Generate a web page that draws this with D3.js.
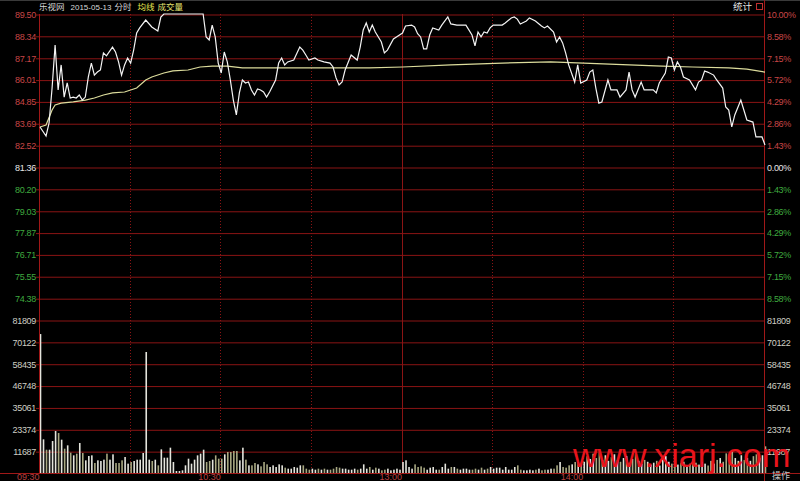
<!DOCTYPE html>
<html><head><meta charset="utf-8">
<script src="https://cdn.jsdelivr.net/npm/d3@7/dist/d3.min.js"></script>
<style>html,body{margin:0;padding:0;background:#000;overflow:hidden}svg{display:block}</style>
</head><body>
<svg id="chart" width="800" height="481"></svg>
<script>
// ---------- data ----------
const stockName = "乐视网";
const dateText = "2015-05-13";
const headerItems = ["分时", "均线", "成交量"];
const prevClose = 81.36;
const priceTicks = [89.50,88.34,87.17,86.01,84.85,83.69,82.52,81.36,80.20,79.03,77.87,76.71,75.55,74.38];
const pctTicks = ["10.00%","8.58%","7.15%","5.72%","4.29%","2.86%","1.43%","0.00%","1.43%","2.86%","4.29%","5.72%","7.15%","8.58%"];
const volTicks = [81809,70122,58435,46748,35061,23374,11687];
const timeTickMinutes = [30,60,90,120,150,180,210];
const timeLabelMinutes = [0,60,120,180];
const timeLabels = ["09:30","10:30","13:00","14:00"];

// minute offsets from the open (0 = 09:30, 120 = 11:30/13:00, 240 = 15:00)
const priceMinute = [0,2,3,4,5,6,7,8,9,10,11,12,13,14,15,16,17,18,19,20,21,22,24,25,26,27,28,29,30,31,32,33,35,37,39,40,41,54,
 55,56,57,58,59,60,61,62,63,64,65,66,67,68,69,70,71,72,73,74,75,76,78,79,80,81,82,84,86,87,88,89,91,92,94,96,97,98,99,100,
 101,103,105,106,107,108,109,110,111,113,114,115,117,118,120,121,123,124,125,126,127,128,129,130,132,133,135,136,138,141,
 143,144,145,146,147,148,149,150,153,154,156,157,158,159,161,162,164,166,167,168,170,171,172,173,174,175,177,178,179,181,
 182,183,184,185,186,188,189,191,192,194,195,196,197,199,200,203,204,205,207,208,209,210,211,212,213,215,217,218,219,220,
 221,223,224,226,227,228,229,230,232,233,234,236,237,239,240];
const priceValue = [83.49,83.01,83.70,85.56,87.85,85.46,86.79,85.08,85.83,85.03,85.08,85.03,85.19,84.92,85.08,86.15,86.89,86.25,86.41,86.52,87.43,87.27,87.74,87.48,86.95,86.25,86.79,87.16,86.89,87.58,88.49,88.76,89.18,88.81,88.60,89.34,89.50,89.50,
 88.28,88.12,88.91,88.28,86.89,86.36,87.48,86.95,85.99,84.92,84.13,85.30,85.99,85.83,85.88,85.46,85.19,85.51,85.46,85.35,85.08,85.35,85.99,86.89,87.16,86.79,86.95,87.05,87.74,87.58,87.32,87.05,87.16,87.05,86.95,86.89,86.68,86.10,85.72,85.88,
 86.52,87.32,87.05,87.74,88.65,89.02,88.54,88.91,88.54,88.01,87.43,87.58,88.17,88.28,88.49,88.86,88.91,88.81,88.45,88.28,87.64,87.64,88.38,88.76,88.65,88.91,89.34,88.97,88.91,88.91,
 88.38,87.80,88.54,88.28,88.54,88.49,88.76,88.91,88.91,89.02,89.29,89.34,89.23,88.97,89.13,89.29,89.13,88.86,88.76,88.86,88.54,88.01,88.28,87.96,87.43,86.79,85.88,86.79,85.83,85.99,
 86.41,86.52,85.56,84.76,84.82,85.99,85.46,85.46,85.08,85.46,86.41,85.46,85.08,85.88,85.46,85.46,85.30,85.83,86.36,87.21,87.16,86.52,86.95,86.68,86.15,85.99,85.46,85.88,85.99,86.47,
 86.41,86.25,85.99,85.56,84.55,84.39,83.49,84.13,84.92,84.39,83.86,83.75,82.96,82.96,82.53];

const avgMinute = [0,2,4,5,7,11,15,18,21,24,28,32,35,37,41,44,49,53,57,62,67,75,86,97,109,120,136,153,169,180,195,206,216,228,234,240];
const avgValue = [83.49,83.59,84.39,84.66,84.76,84.82,84.92,85.03,85.19,85.30,85.35,85.56,85.99,86.15,86.36,86.47,86.52,86.68,86.73,86.73,86.63,86.63,86.63,86.63,86.63,86.68,86.79,86.89,86.95,86.89,86.79,86.73,86.68,86.63,86.57,86.41];

// volume per minute, minute 0..240
const volume = [
 74300,18000,12470,12470,17100,22450,21380,17820,13000,14790,
 10870,9440,10340,16040,10690,6770,9090,9440,5350,6770,
 6420,7130,10340,7130,9980,5350,5350,6770,8550,4990,
 5880,6420,7130,7130,10690,64700,7130,6420,7130,4100,
 12650,8200,8200,13540,5880,1070,1070,1430,4100,7660,
 4990,7130,9440,10340,12470,5880,6420,7130,9440,7660,
 7660,9980,11230,11230,11760,11760,6770,13540,7130,4100,
 4100,5350,4630,3560,5880,4630,3210,4100,3210,4630,
 4100,2850,2320,2320,3210,2850,4100,4100,2320,1780,
 2320,1780,2320,1780,2320,1780,1780,2320,3210,2850,
 2320,2320,1780,1780,2320,1780,2320,4630,2320,3210,
 1780,2850,2320,1430,1780,2320,1430,1780,2320,1780,
 5880,6770,3210,2320,4630,3210,3560,2850,1780,2850,
 3210,1780,1780,3210,4990,2320,3210,3210,2320,1780,
 2320,2320,1780,1780,2320,1780,2850,1780,2320,3210,
 2320,2850,2850,1780,3210,1780,1780,3210,4100,1780,
 1430,1430,1780,1430,1780,2320,1430,1780,1780,2320,
 2320,4100,5880,3210,2850,4100,4630,5880,5880,4990,
 6000,9000,7500,10300,8000,11000,7000,9500,6500,8500,
 10000,7000,6000,8000,9000,5500,7500,10000,6500,5000,
 7000,6000,4500,5500,6500,4000,7500,9000,6000,5000,
 7000,4500,5500,6000,4000,5000,7500,5500,4500,6000,
 5000,4000,6500,5000,7000,8000,6000,10500,9000,11500,
 8000,6500,9500,7000,8000,6500,9000,10000,8000,9500,
 14260];

// ---------- drawing ----------
const svg = d3.select("#chart");
const W = 800, H = 481;
const L = 39, R = 764, T = 14, B = 473;
const GRID = "#8a1414", RED = "#c84646", GREEN = "#3faa3f", WHITE = "#e6e6e6", VOLTXT = "#cfcfc4";
const NUMFONT = "'Liberation Sans', Arial, sans-serif";
const CJK = "'Noto Sans CJK SC', sans-serif";

svg.append("rect").attr("width", W).attr("height", H).attr("fill", "#000");
svg.append("line").attr("x1",0).attr("x2",W).attr("y1",0.5).attr("y2",0.5).attr("stroke","#3a3a3a");

const x = d3.scaleLinear().domain([0, 240]).range([L, R]);
const yP = d3.scaleLinear().domain([prevClose, priceTicks[0]]).range([167, T]);
const yV = d3.scaleLinear().domain([0, volTicks[0]]).range([B, 320]);

function priceColor(v){ return v > prevClose + 0.001 ? RED : (v < prevClose - 0.001 ? GREEN : WHITE); }
function styleNum(sel){ sel.style("font-family", NUMFONT).style("font-size", "9px").style("letter-spacing","-0.3px"); }

// price axis (left) with grid
const gP = svg.append("g").attr("transform", `translate(${L},0.5)`)
  .call(d3.axisLeft(yP).tickValues(priceTicks).tickFormat(d3.format(".2f")).tickSize(-(R - L)).tickPadding(3));
gP.select(".domain").remove();
gP.selectAll(".tick line").attr("stroke", GRID).attr("x1", -3);
gP.selectAll(".tick text").attr("fill", d => priceColor(d)).call(styleNum);

// percent axis (right)
const gPct = svg.append("g").attr("transform", `translate(${R},0.5)`)
  .call(d3.axisRight(yP).tickValues(priceTicks).tickFormat((d,i) => pctTicks[i]).tickSize(0).tickPadding(3));
gPct.select(".domain").remove();
gPct.selectAll(".tick text").attr("fill", d => priceColor(d)).call(styleNum);

// volume axes
const gV = svg.append("g").attr("transform", `translate(${L},0.5)`)
  .call(d3.axisLeft(yV).tickValues(volTicks).tickFormat(d3.format("d")).tickSize(-(R - L)).tickPadding(3));
gV.select(".domain").remove();
gV.selectAll(".tick line").attr("stroke", GRID).attr("x1", -3);
gV.selectAll(".tick text").attr("fill", VOLTXT).call(styleNum);

const gV2 = svg.append("g").attr("transform", `translate(${R},0.5)`)
  .call(d3.axisRight(yV).tickValues(volTicks).tickFormat(d3.format("d")).tickSize(0).tickPadding(3));
gV2.select(".domain").remove();
gV2.selectAll(".tick text").attr("fill", VOLTXT).call(styleNum);

// vertical time grid
svg.append("g").selectAll("line").data(timeTickMinutes).join("line")
  .attr("x1", d => Math.round(x(d)) + 0.5).attr("x2", d => Math.round(x(d)) + 0.5)
  .attr("y1", T).attr("y2", B)
  .attr("stroke", GRID)
  .attr("stroke-dasharray", d => d === 120 ? null : "1,2");

// volume bars coloured by price direction
const priceAt = m => { const i = d3.bisectRight(priceMinute, m) - 1; return i < 0 ? priceValue[0] : priceValue[i]; };
svg.append("g").selectAll("rect").data(volume).join("rect")
  .attr("x", (d,i) => x(i) + 0.7)
  .attr("width", 1.6)
  .attr("y", d => yV(d))
  .attr("height", d => B - yV(d))
  .attr("fill", (d,i) => (i === 0 || priceAt(i) >= priceAt(i - 1)) ? "#e4e4dc" : "#a8a882");

// frame
svg.append("line").attr("x1", L + 0.5).attr("x2", L + 0.5).attr("y1", T).attr("y2", B).attr("stroke", "#a01818");
svg.append("line").attr("x1", R + 0.5).attr("x2", R + 0.5).attr("y1", 0).attr("y2", H).attr("stroke", "#a01818");
svg.append("line").attr("x1", 0).attr("x2", W).attr("y1", B + 0.5).attr("y2", B + 0.5).attr("stroke", "#a01818");

// time labels
const gT = svg.append("g").attr("transform", `translate(0,${B})`)
  .call(d3.axisBottom(x).tickValues(timeLabelMinutes).tickFormat((d,i) => timeLabels[i]).tickSize(0).tickPadding(1));
gT.select(".domain").remove();
gT.selectAll(".tick text").attr("fill", "#b84040").attr("text-anchor", "end").attr("x", 0)
  .style("font-family", NUMFONT).style("font-size", "9px").attr("dy", "0.71em");

// average line
svg.append("path").datum(avgMinute.map((m,i) => [m, avgValue[i]]))
  .attr("d", d3.line().x(d => x(d[0]) + 1).y(d => yP(d[1])))
  .attr("fill", "none").attr("stroke", "#dcdc9c").attr("stroke-width", 1.2);

// price line
svg.append("path").datum(priceMinute.map((m,i) => [m, priceValue[i]]))
  .attr("d", d3.line().x(d => x(d[0]) + 1).y(d => yP(d[1])))
  .attr("fill", "none").attr("stroke", "#f4f4f4").attr("stroke-width", 1.2);

// header (laid out left to right)
const hdr = svg.append("g").style("font-family", CJK).style("font-size", "8.5px");
let hx = 39;
const t0 = hdr.append("text").attr("x", hx).attr("y", 7).attr("dy", "0.35em").attr("fill", "#d8d8d8").text(stockName);
hx += t0.node().getComputedTextLength() + 6;
const tDate = hdr.append("text").attr("x", hx).attr("y", 7).attr("dy", "0.35em").attr("fill", "#d8d8d8")
  .style("font-family", NUMFONT).style("font-size", "8px").text(dateText);
hx += tDate.node().getComputedTextLength() + 3;
const hColors = ["#d8d8d8", "#e6e650", "#e6e670"];
headerItems.forEach((s, i) => {
  const t = hdr.append("text").attr("x", hx).attr("y", 7).attr("dy", "0.35em").attr("fill", hColors[i]).text(s);
  hx += t.node().getComputedTextLength() + (i === 0 ? 6 : 3);
});
hdr.append("text").attr("x", 733).attr("y", 7).attr("dy", "0.35em").attr("fill", "#e6e6e6").style("font-size", "9.5px").text("统计");
svg.append("rect").attr("x", 756.5).attr("y", 3.5).attr("width", 6).attr("height", 6).attr("fill", "none").attr("stroke", "#c03030");

// watermark
svg.append("text").attr("x", 573).attr("y", 467).attr("fill", "#e8141c")
  .style("font-family", NUMFONT).style("font-size", "34px").text("www.xiarj.com");

svg.append("text").attr("x", 772).attr("y", 475.5).attr("dy", "0.35em").attr("fill", "#c8c8c8")
  .style("font-family", CJK).style("font-size", "9px").text("操作");
</script>
</body></html>
